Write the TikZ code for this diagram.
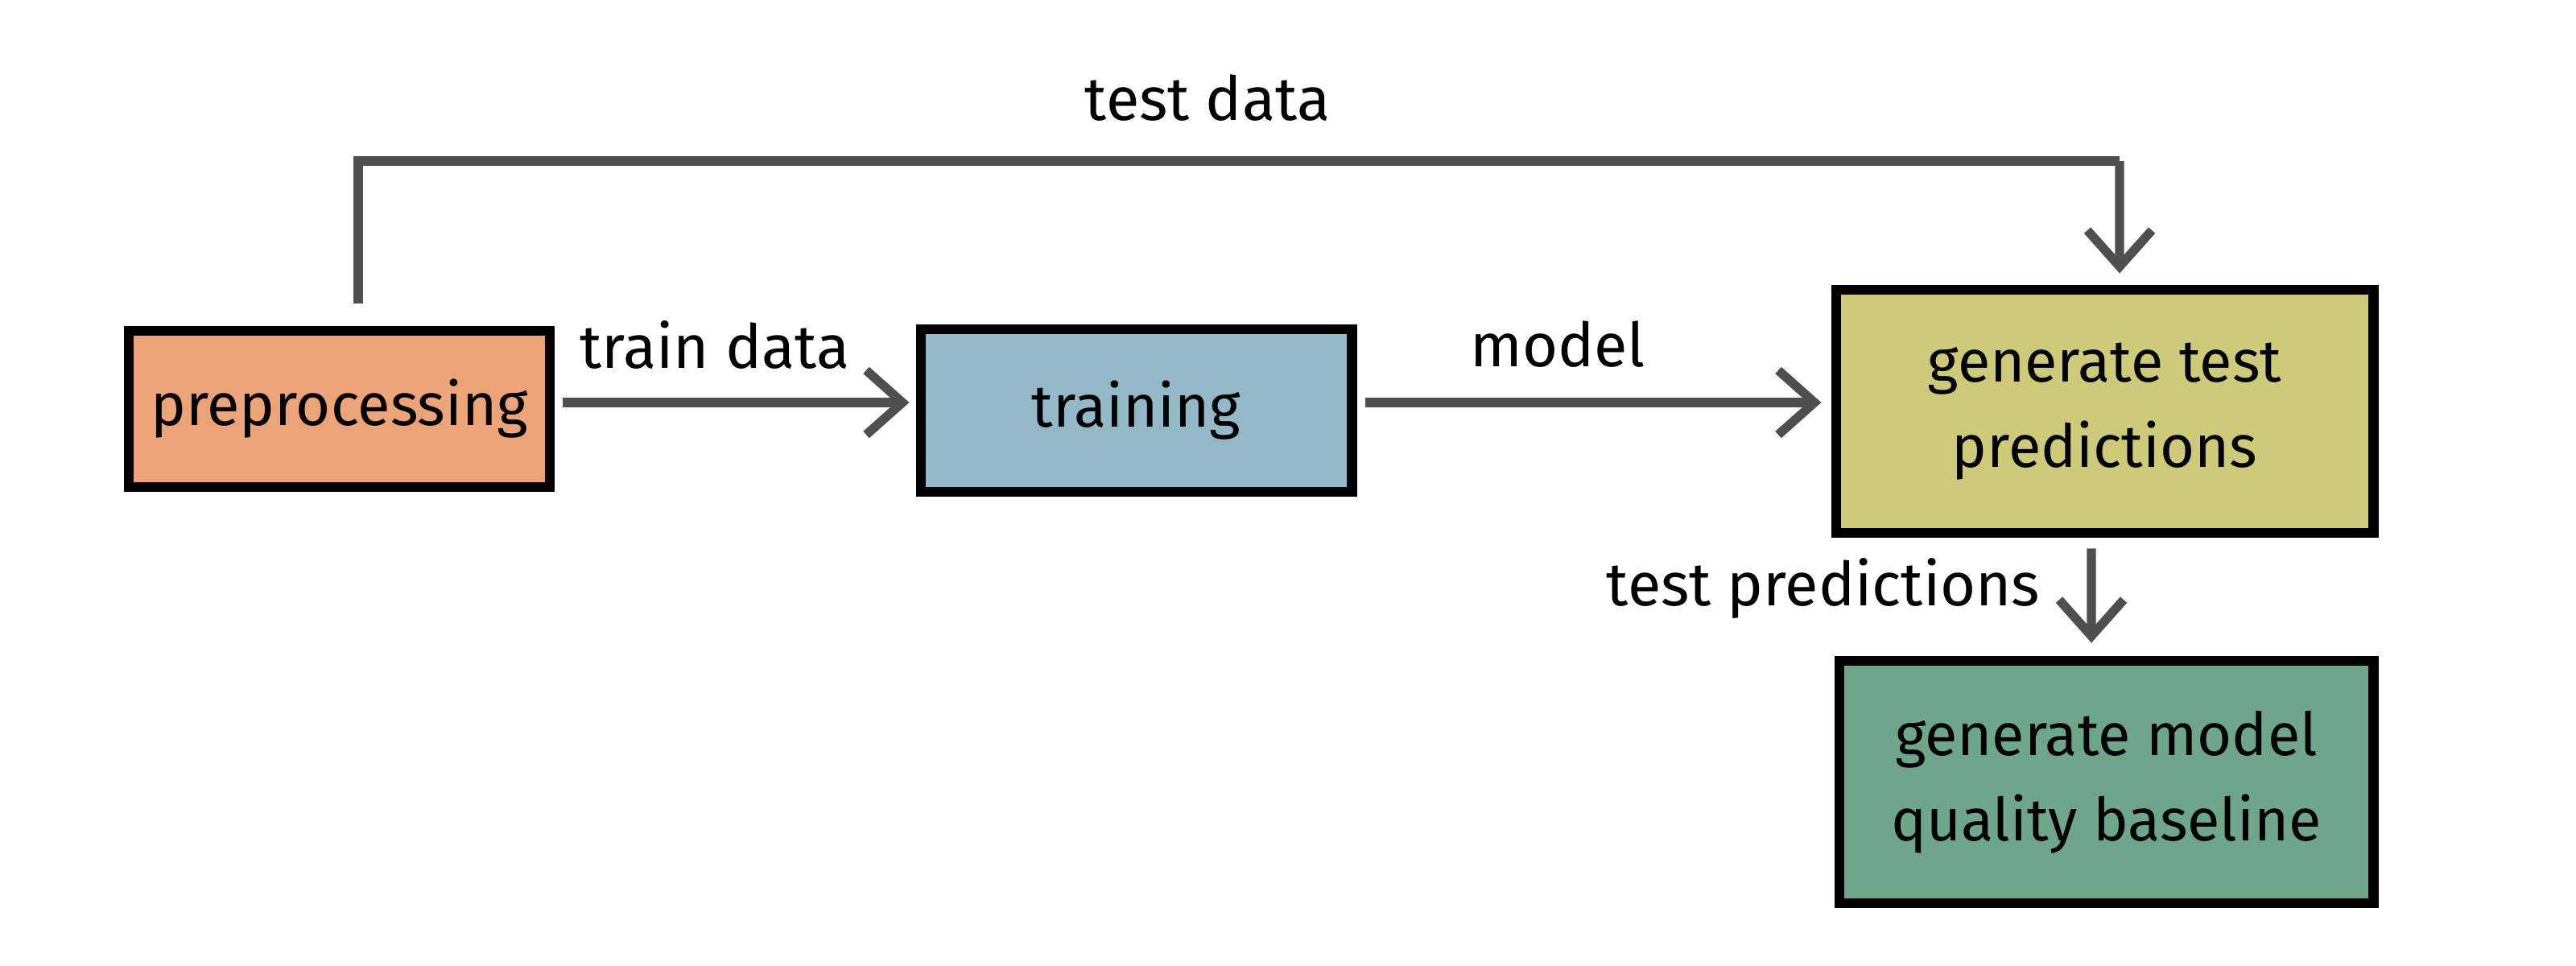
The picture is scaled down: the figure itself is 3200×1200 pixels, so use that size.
\documentclass[tikz,border=0pt]{standalone}
\usepackage{fontspec}
\setmainfont{Fira Sans}
\usetikzlibrary{arrows.meta,calc}
\definecolor{cpre}{HTML}{EBA377}
\definecolor{ctrain}{HTML}{93B8C8}
\definecolor{cgtp}{HTML}{CDCA7A}
\definecolor{cgmq}{HTML}{6DA68A}
\definecolor{carr}{HTML}{4F4F4F}
\tikzset{
  box/.style={draw=black, line width=3.6pt, align=center, inner sep=0pt, font=\fontsize{21}{30}\selectfont},
  arr/.style={draw=carr, line width=3.2pt, -{Straight Barb[length=4.5mm,width=8mm,line width=3.2pt]}},
  lbl/.style={font=\fontsize{21.5}{25}\selectfont, inner sep=0pt}
}
\begin{document}
\begin{tikzpicture}[x=0.01cm,y=-0.01cm]
\path[fill=white] (0,0) rectangle (3200,1200);
\node[box, fill=cpre, minimum width=5.23cm, minimum height=1.94cm] (pre) at (421.5,508) {preprocessing};
\node[box, fill=ctrain, minimum width=5.35cm, minimum height=2.02cm] (train) at (1411.5,510) {training};
\node[box, fill=cgtp, minimum width=6.67cm, minimum height=3.02cm] (gtp) at (2614.5,511) {generate test\\predictions};
\node[box, fill=cgmq, minimum width=6.63cm, minimum height=3.01cm] (gmq) at (2616.5,971.5) {generate model\\quality baseline};

\draw[arr] ([xshift=1mm]pre.east |- 0,500) -- ([xshift=-0.8mm]train.west |- 0,500);
\draw[arr] ([xshift=1mm]train.east |- 0,500) -- ([xshift=-1.2mm]gtp.west |- 0,500);
\draw[arr, -] ([xshift=2.35mm,yshift=2.8mm]pre.north) |- (2633,200) coordinate (tdc);
\draw[arr] (tdc) -- ([xshift=1.85mm,yshift=1.4mm]gtp.north);
\draw[arr] ([xshift=-1.65mm,yshift=-1.3mm]gtp.south) -- ([xshift=-1.85mm,yshift=1.6mm]gmq.north);

\node[lbl] (ltd) at (1500,122) {test data};
\node[lbl] (ltrd) at (888,428) {train data};
\node[lbl] (lmod) at (1935,428) {model};
\node[lbl] (ltp) at (2265,731) {test predictions};
\end{tikzpicture}
\end{document}
